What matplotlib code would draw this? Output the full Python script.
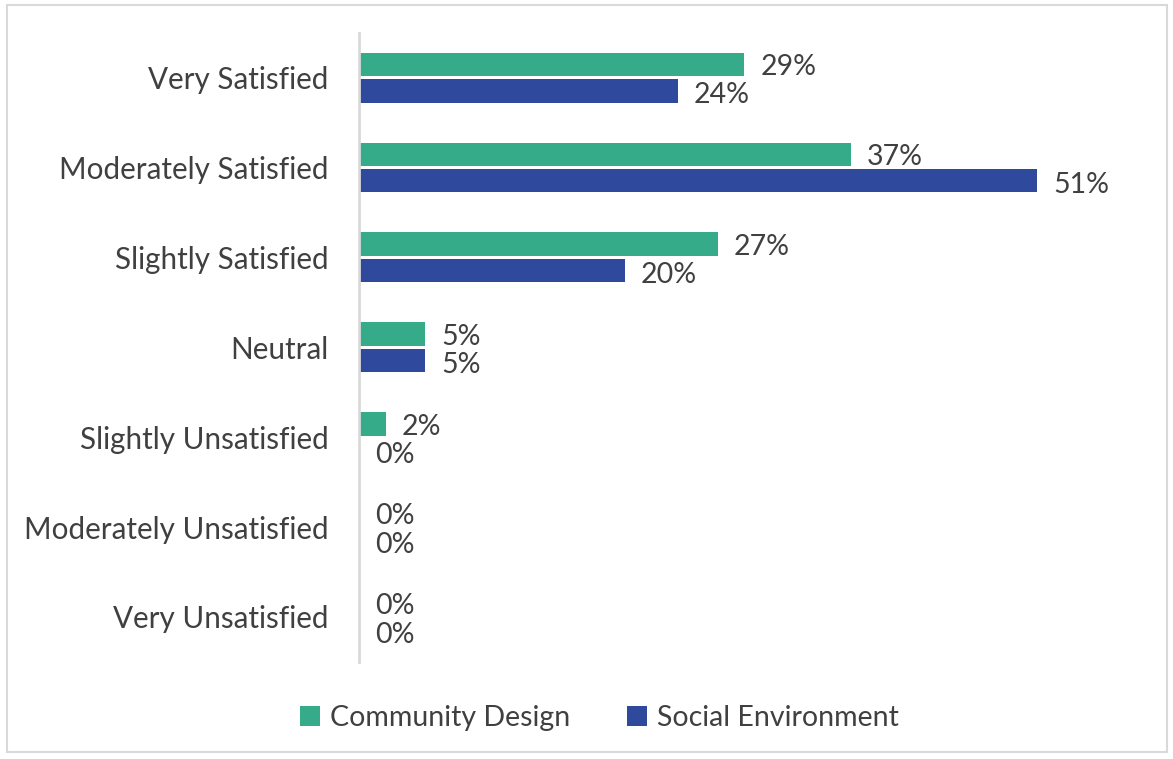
import matplotlib.pyplot as plt
from matplotlib.patches import Rectangle

# Satisfaction survey results (percent)
categories = ["Very Satisfied", "Moderately Satisfied", "Slightly Satisfied", "Neutral",
              "Slightly Unsatisfied", "Moderately Unsatisfied", "Very Unsatisfied"]
community_design = [29, 37, 27, 5, 2, 0, 0]
social_environment = [24, 51, 20, 5, 0, 0, 0]
series_names = ["Community Design", "Social Environment"]

green = "#36ab8a"
blue = "#2f4a9c"
text_color = "#404040"
fs = 20.5

plt.rcParams["font.family"] = ["Lato", "DejaVu Sans"]

fig = plt.figure(figsize=(11.73, 7.59), dpi=100)
ax = fig.add_axes([0.306, 0.128, 0.68, 0.829])

# light frame around the whole chart
fig.patches.append(Rectangle((0.006, 0.009), 0.989, 0.985, transform=fig.transFigure,
                             fill=False, edgecolor="#d9d9d9", linewidth=1.5))

n = len(categories)
ypos = list(range(n))
h = 0.26
gap = 0.035
y_green = [y - (h + gap) / 2 for y in ypos]
y_blue = [y + (h + gap) / 2 for y in ypos]

ax.barh(y_green, community_design, height=h, color=green, label=series_names[0])
ax.barh(y_blue, social_environment, height=h, color=blue, label=series_names[1])

for y, v in zip(y_green, community_design):
    ax.text(v + 1.2, y + 0.03, f"{v}%", va="center", ha="left", fontsize=fs, color=text_color)
for y, v in zip(y_blue, social_environment):
    ax.text(v + 1.2, y + 0.05, f"{v}%", va="center", ha="left", fontsize=fs, color=text_color)

ax.set_xlim(0, 60)
ax.set_ylim(n - 0.5, -0.5)
ax.set_yticks(ypos)
ax.set_yticklabels(categories, fontsize=21.3, color=text_color)
ax.tick_params(axis="y", length=0, pad=22)
ax.set_xticks([])

for side in ["top", "right", "bottom"]:
    ax.spines[side].set_visible(False)
ax.spines["left"].set_color("#d9d9d9")
ax.spines["left"].set_linewidth(2)

fig.legend(loc="center", bbox_to_anchor=(0.511, 0.054), ncol=2, frameon=False,
           fontsize=fs, labelcolor=text_color, handlelength=0.7, handleheight=0.7,
           handletextpad=0.35, columnspacing=2.0)

fig.savefig("out.png", dpi=100)
